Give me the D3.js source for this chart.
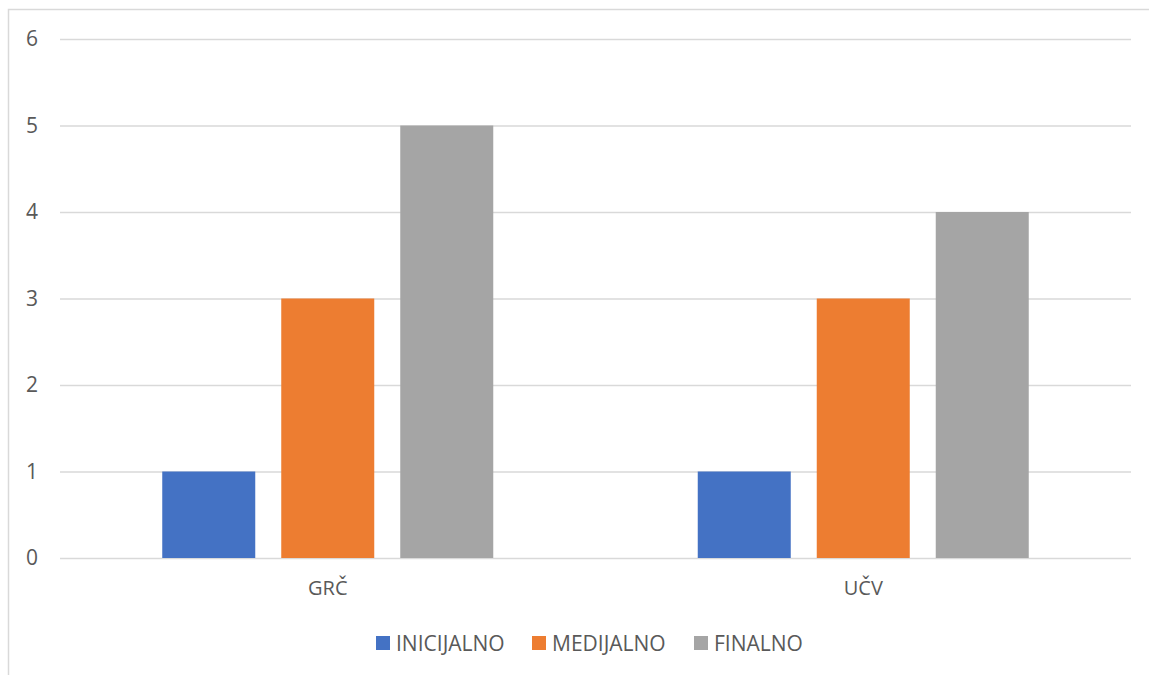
<!DOCTYPE html>
<html>
<head>
<meta charset="utf-8">
<script src="https://cdn.jsdelivr.net/npm/d3@7"></script>
<style>
  body { margin: 0; background: #fff; }
  text { font-family: "Open Sans", "Noto Sans", sans-serif; fill: #595959; }
</style>
</head>
<body>
<div id="chart"></div>
<script>
var categories = ["GRČ", "UČV"];
var seriesNames = ["INICIJALNO", "MEDIJALNO", "FINALNO"];
var seriesColors = ["#4472c4", "#ed7d31", "#a5a5a5"];
var inicijalno = [1, 1];
var medijalno = [3, 3];
var finalno = [5, 4];
var yTicks = [0, 1, 2, 3, 4, 5, 6];

var seriesValues = [inicijalno, medijalno, finalno];

var W = 1149, H = 675;
var margin = { top: 39, right: 18, bottom: 117, left: 60 },
    width = W - margin.left - margin.right,
    height = H - margin.top - margin.bottom;

var svg = d3.select("#chart")
    .append("svg")
    .attr("width", W)
    .attr("height", H);

// chart frame (right and bottom edges fall outside the window)
svg.append("rect")
    .attr("x", 8.5).attr("y", 9.5)
    .attr("width", W + 20).attr("height", H + 20)
    .attr("fill", "none")
    .attr("stroke", "#d9d9d9")
    .attr("stroke-width", 1.5);

var g = svg.append("g")
    .attr("transform", "translate(" + margin.left + "," + margin.top + ")");

var x0 = d3.scaleBand()
    .domain(categories)
    .range([0, width]);

var x1 = d3.scaleBand()
    .domain(seriesNames)
    .range([0, 331])
    .paddingInner(26 / 119);

var y = d3.scaleLinear()
    .domain([0, 6])
    .range([height, 0]);

// gridlines
var yAxis = g.append("g")
    .call(d3.axisLeft(y).tickValues(yTicks).tickSize(-width).tickPadding(22).tickFormat(d3.format("d")));
yAxis.select(".domain").remove();
yAxis.selectAll(".tick line")
    .attr("stroke", "#d9d9d9")
    .attr("stroke-width", 1.5);
yAxis.selectAll(".tick text")
    .style("font-size", "21px")
    .attr("fill", "#595959");

// bars
var groups = g.selectAll(".grp")
    .data(categories)
    .enter()
    .append("g")
    .attr("class", "grp")
    .attr("transform", function (d) {
        return "translate(" + (x0(d) + x0.bandwidth() / 2 - 331 / 2) + ",0)";
    });

groups.selectAll("rect")
    .data(function (d, i) {
        return seriesNames.map(function (s, j) {
            return { s: s, v: seriesValues[j][i], c: seriesColors[j] };
        });
    })
    .enter()
    .append("rect")
    .attr("x", function (d) { return x1(d.s); })
    .attr("y", function (d) { return y(d.v); })
    .attr("width", x1.bandwidth())
    .attr("height", function (d) { return height - y(d.v); })
    .attr("fill", function (d) { return d.c; });

// category axis
var xAxis = g.append("g")
    .attr("transform", "translate(0," + height + ")")
    .call(d3.axisBottom(x0).tickSize(0).tickPadding(23));
xAxis.select(".domain").remove();
xAxis.selectAll(".tick text")
    .style("font-size", "20px")
    .attr("fill", "#595959");

// legend
var legendX = [376, 532, 694];
var legend = svg.append("g");
var items = legend.selectAll(".item")
    .data(seriesNames)
    .enter()
    .append("g")
    .attr("class", "item")
    .attr("transform", function (d, i) { return "translate(" + legendX[i] + ",636)"; });
items.append("rect")
    .attr("width", 14).attr("height", 14)
    .attr("fill", function (d, i) { return seriesColors[i]; });
items.append("text")
    .attr("x", 20)
    .attr("y", 14.5)
    .style("font-size", "21px")
    .text(function (d) { return d; });
</script>
</body>
</html>
